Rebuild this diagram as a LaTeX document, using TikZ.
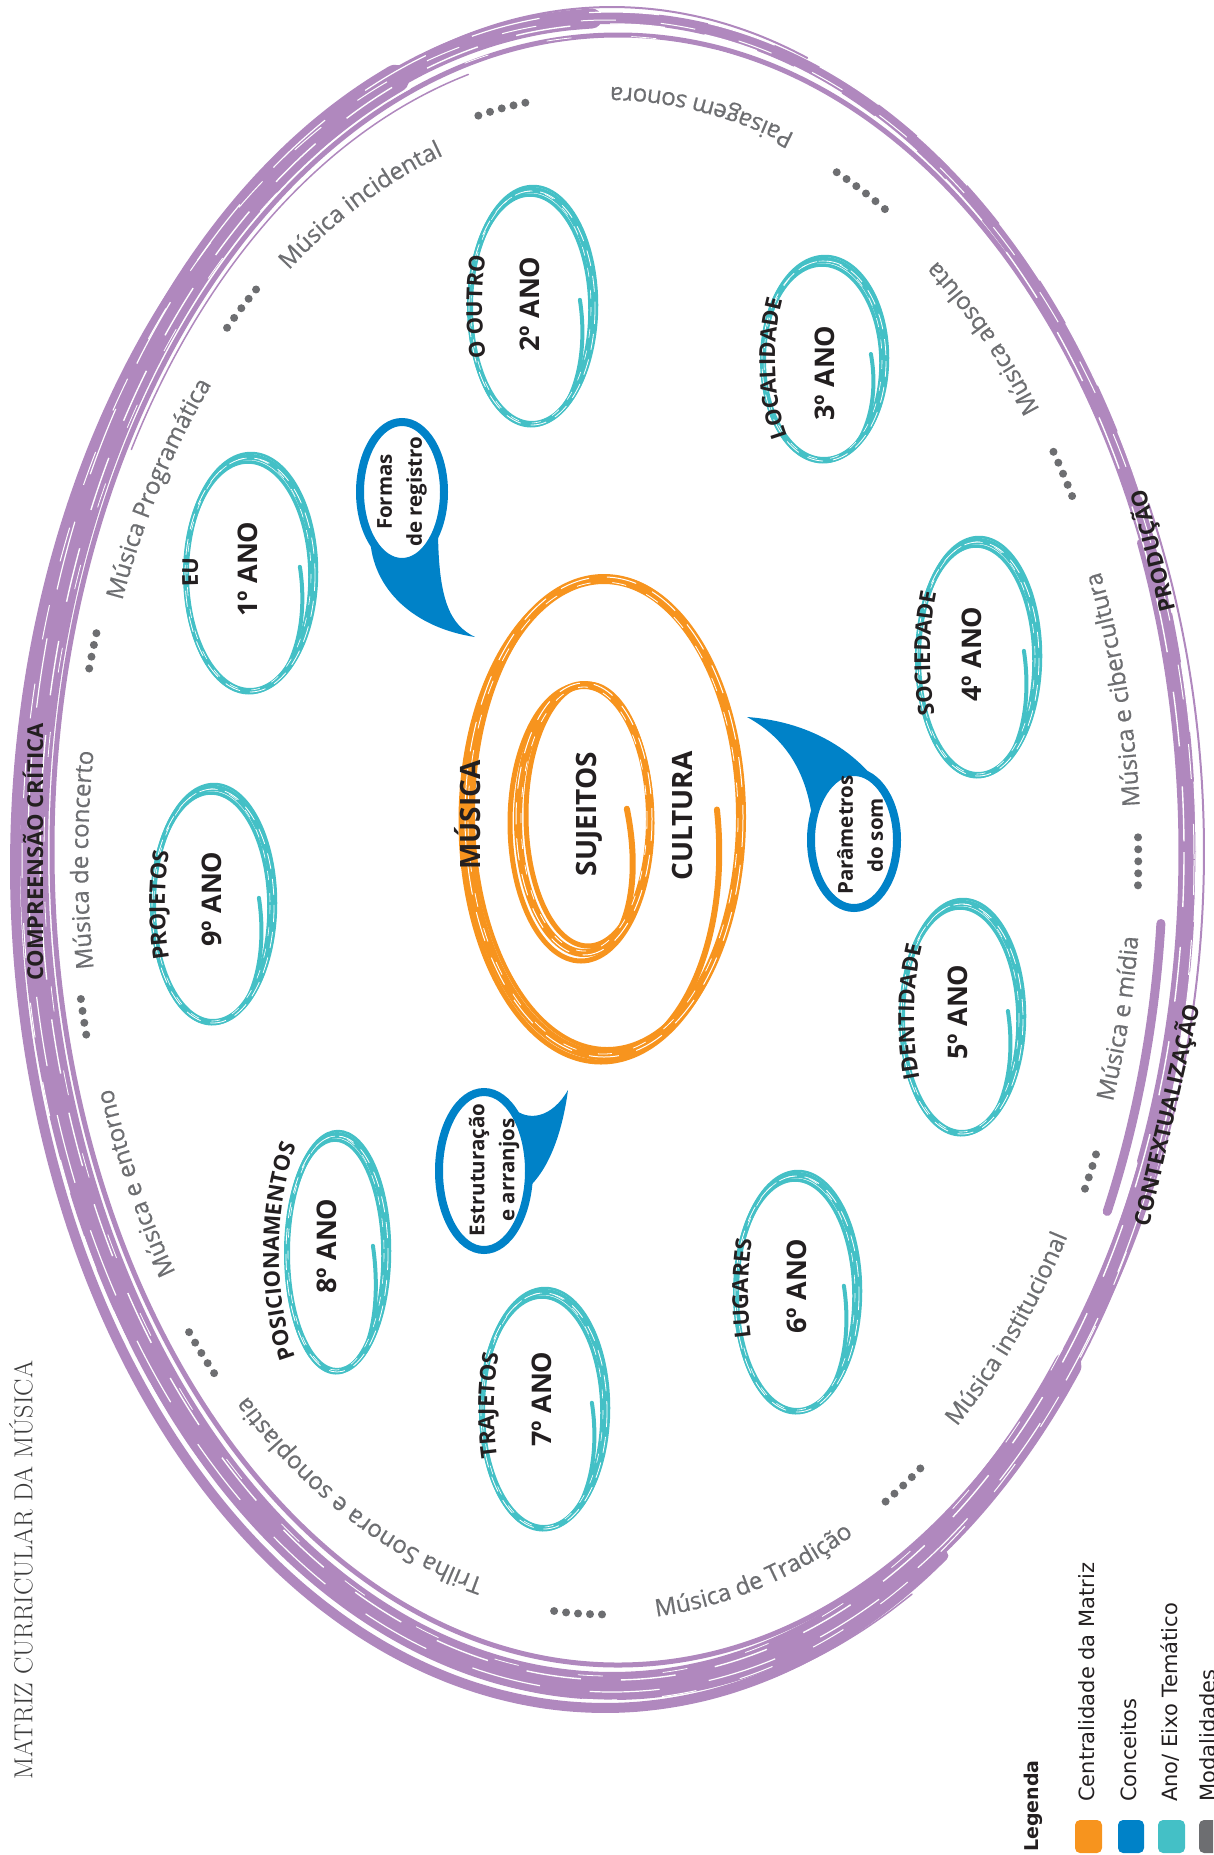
\documentclass[tikz,border=0pt]{standalone}
\usepackage{fontspec}
\newfontfamily\osans{Open Sans}
\newfontfamily\gsans{Open Sans}[FakeBold=0.6]
\newfontfamily\legfont{DejaVu Sans}
\usetikzlibrary{decorations.text}
\definecolor{mpurple}{RGB}{176,136,190}
\definecolor{mcyan}{RGB}{68,192,198}
\definecolor{morange}{RGB}{247,148,30}
\definecolor{mblue}{RGB}{0,130,200}
\definecolor{mgray}{RGB}{109,110,113}
\definecolor{mdark}{RGB}{35,31,32}
\definecolor{mtitle}{RGB}{60,60,60}

\newcommand\yoval[4]{%
  \draw[mcyan, line width=6] (#1,#2) ellipse[x radius=#3, y radius=#4];
  \draw[mcyan, line width=3.5] (#1-2,#2+3) ellipse[x radius=#3-2, y radius=#4-2];
  \draw[mcyan, line width=2.5] (#1+1,#2-2) ellipse[x radius=#3+2, y radius=#4+2];
  \draw[mcyan, line width=4, line cap=round] plot[domain=4:-60, samples=30, smooth] ({#1+(#3-14*(\x+60)/64)*cos(\x)},{#2-(#4-14*(\x+60)/64)*sin(\x)});
  \draw[mcyan, line width=5, line cap=round] plot[domain=190:300, samples=30, smooth] ({#1-1+(#3-1)*cos(\x)},{#2+2-(#4-1)*sin(\x)});
  \draw[white, line width=0.8, dash pattern=on 16pt off 10pt] (#1,#2+1) ellipse[x radius=#3+1, y radius=#4];
  \draw[white, line width=0.6, dash pattern=on 9pt off 13pt] (#1-1,#2) ellipse[x radius=#3-2, y radius=#4-1];
}
\newcommand\glab[5]{%
  \path[decorate, decoration={text along path, text align=center, text color=mgray,
    text={|\gsans\fontsize{24}{24}\selectfont|#5}}]
    plot[domain=#1:#2, samples=80] ({605+#3*cos(\x)},{860-#4*sin(\x)});}
\newcommand\tlab[7]{%
  \path[decorate, decoration={text along path, text align=center, text color=mdark,
    text={|\osans\bfseries\fontsize{22}{22}\selectfont|#7}}]
    plot[domain=#5:#6, samples=70] ({#1+#3*cos(\x)},{#2-#4*sin(\x)});}

\tikzset{
  yearlbl/.style={font=\osans\bfseries\fontsize{27}{27}\selectfont, text=mdark, rotate=90, inner sep=0},
  centerlbl/.style={font=\osans\bfseries\fontsize{28}{28}\selectfont, text=mdark, rotate=90, inner sep=0},
  bandlbl/.style={font=\osans\bfseries\fontsize{22}{22}\selectfont, text=mdark, inner sep=0},
  bubbletxt/.style={font=\osans\bfseries\fontsize{20.5}{30}\selectfont, text=mdark, rotate=90, align=center, inner sep=0},
  legtxt/.style={font=\legfont\fontsize{21}{21}\selectfont, text=mdark, rotate=90, anchor=west, inner sep=0},
  legbox/.style={rounded corners=5pt},
  brush/.style={line cap=round},
}

\begin{document}
\begin{tikzpicture}[x=1pt, y=-1pt]
\useasboundingbox (0,0) rectangle (1213,1855);
\clip (0,0) rectangle (1213,1855);

% ---------- purple outer band ----------
\begin{scope}[mpurple, brush]
\draw[line width=12] (612,852) ellipse[x radius=578, y radius=834];
\draw[line width=20] plot[domain=92:342, samples=100, smooth] ({612+578*cos(\x)},{852-834*sin(\x)});
\draw[line width=28] plot[domain=112:322, samples=100, smooth] ({612+578*cos(\x)},{852-834*sin(\x)});
\draw[line width=10] plot[domain=125:305, samples=80, smooth] ({605+590*cos(\x)},{866-842*sin(\x)});
\draw[line width=5] (618,850) ellipse[x radius=566, y radius=815];
\draw[line width=9] plot[domain=-26:-5, samples=30, smooth] ({612+551*cos(\x)},{852-820*sin(\x)});
\draw[line width=7] plot[domain=-22:22, samples=30, smooth] ({612+570*cos(\x)},{852-826*sin(\x)});
\draw[line width=2] plot[domain=70:135, samples=40, smooth] ({612+571*cos(\x)},{852-845*sin(\x)});
\draw[line width=2] plot[domain=-35:25, samples=40, smooth] ({612+592*cos(\x)},{852-824*sin(\x)});
\draw[line width=1.5] plot[domain=200:300, samples=40, smooth] ({612+600*cos(\x)},{858-850*sin(\x)});
\draw[line width=1.5] plot[domain=105:150, samples=40, smooth] ({612+555*cos(\x)},{852-805*sin(\x)});
\end{scope}
\draw[white, line width=1.4, dash pattern=on 55pt off 40pt] (612,852) ellipse[x radius=572, y radius=828];
\draw[white, line width=1, dash pattern=on 35pt off 45pt] (608,860) ellipse[x radius=586, y radius=840];
\draw[white, line width=0.8, dash pattern=on 25pt off 60pt] (610,856) ellipse[x radius=566, y radius=820];
\draw[white, line width=1.2, dash pattern=on 70pt off 50pt] (612,852) ellipse[x radius=584, y radius=840];

\node[bandlbl, rotate=90] (compr) at (33,852) {COMPREENSÃO CRÍTICA};
\node[bandlbl, rotate=104] (prod) at (1153,551) {PRODUÇÃO};
\node[bandlbl, rotate=77] (cont) at (1167,1115) {CONTEXTUALIZAÇÃO};

% ---------- grey modality labels ----------
\glab{135}{99}{522}{741}{Música incidental}
\glab{62}{98}{554}{773}{Paisagem sonora}
\glab{27}{63}{540}{759}{Música absoluta}
\glab{-4}{31}{536}{755}{Música e cibercultura}
\glab{-30}{5}{536}{755}{Música e mídia}
\glab{-58}{-22}{534}{753}{Música institucional}
\glab{-92}{-56}{541}{760}{Música de Tradição}
\glab{262}{222}{520}{739}{Trilha Sonora e sonoplastia}
\glab{224}{189}{518}{737}{Música e entorno}
\glab{197.5}{162.5}{517}{736}{Música de concerto}
\glab{167}{131}{516}{735}{Música Programática}

\foreach \ta/\nd/\kk in {101.0/5/1.025, 61.6/6/1.02, 30.8/5/1.01, -0.1/5/1.01, -24.4/4/1.01, -56.0/5/1.01, 267.1/5/1.01, 220.8/5/1.01, 192.0/4/1.01, 163.9/4/1.01, 133.0/5/1.01}{
  \pgfmathsetmacro\spd{veclen(5.33*sin(\ta),7.54*cos(\ta))*1.7453}
  \pgfmathsetmacro\dtt{12/\spd}
  \foreach \i in {1,...,\nd}{
    \pgfmathsetmacro\tb{\ta+(\i-(\nd+1)/2)*\dtt}
    \fill[mgray] ({605+528*\kk*cos(\tb)},{860-747*\kk*sin(\tb)}) circle[radius=4];
  }
}

% ---------- orange centre ----------
\begin{scope}[morange, brush]
\draw[line width=10] (604,817) ellipse[x radius=137, y radius=238];
\draw[line width=5] (601,821) ellipse[x radius=140, y radius=241];
\draw[line width=4] (607,813) ellipse[x radius=134, y radius=236];
\draw[line width=6] plot[domain=2:-70, samples=40, smooth] ({604+(137-24*(\x+70)/72)*cos(\x)},{817-(238-23*(\x+70)/72)*sin(\x)});
\draw[line width=8] (584,819) ellipse[x radius=66, y radius=134];
\draw[line width=5] (581,823) ellipse[x radius=71, y radius=138];
\draw[line width=5] (588,815) ellipse[x radius=62, y radius=131];
\draw[line width=6] plot[domain=5:-60, samples=30, smooth] ({584+(66-23*(\x+60)/65)*cos(\x)},{819-(134-16*(\x+60)/65)*sin(\x)});
\end{scope}
\draw[white, line width=1, dash pattern=on 30pt off 18pt] (604,817) ellipse[x radius=139, y radius=240];
\draw[white, line width=0.8, dash pattern=on 14pt off 22pt] (603,818) ellipse[x radius=135, y radius=236];
\draw[white, line width=1, dash pattern=on 22pt off 14pt] (584,819) ellipse[x radius=68, y radius=136];
\draw[white, line width=0.8, dash pattern=on 10pt off 16pt] (584,819) ellipse[x radius=63, y radius=132];

\node[centerlbl] (musica) at (468,815) {MÚSICA};
\node[centerlbl] (sujeitos) at (589,814) {SUJEITOS};
\node[centerlbl] (cultura) at (682,816) {CULTURA};

% ---------- cyan year ovals ----------
\yoval{250}{574}{64}{117}
\yoval{532}{307}{62}{117}
\yoval{824}{360}{61}{100}
\yoval{978}{658}{60}{117}
\yoval{962}{1018}{60}{115}
\yoval{797}{1293}{61}{118}
\yoval{544}{1410}{62}{118}
\yoval{337}{1253}{50}{118}
\yoval{213}{905}{60}{117}

\node[yearlbl] (y1) at (248,569) {1º ANO};
\node[yearlbl] (y2) at (530,304) {2º ANO};
\node[yearlbl] (y3) at (825,373) {3º ANO};
\node[yearlbl] (y4) at (972,654) {4º ANO};
\node[yearlbl] (y5) at (958,1012) {5º ANO};
\node[yearlbl] (y6) at (797,1286) {6º ANO};
\node[yearlbl] (y7) at (542,1399) {7º ANO};
\node[yearlbl] (y8) at (327,1246) {8º ANO};
\node[yearlbl] (y9) at (212,899) {9º ANO};

\tlab{250}{574}{52}{132}{233.7}{123.7}{EU}
\tlab{532}{307}{50}{132}{235}{125}{O OUTRO}
\tlab{824}{360}{49}{115}{241}{131}{LOCALIDADE}
\tlab{978}{658}{48}{132}{232}{122}{SOCIEDADE}
\tlab{962}{1018}{48}{130}{231}{121}{IDENTIDADE}
\tlab{797}{1293}{49}{133}{232}{122}{LUGARES}
\tlab{544}{1410}{50}{133}{232}{122}{TRAJETOS}
\tlab{337}{1253}{58}{150}{239}{119}{POSICIONAMENTOS}
\tlab{213}{905}{48}{132}{235}{125}{PROJETOS}

% ---------- blue speech bubbles ----------
\fill[mblue] (370,537) .. controls (372,590) and (415,628) .. (475,637) .. controls (450,625) and (438,600) .. (438,527) -- cycle;
\draw[mblue, line width=8, fill=white] (402,492) ellipse[x radius=42, y radius=70];
\node[bubbletxt] (b1) at (402,492) {Formas\\de registro};

\fill[mblue] (884,792) .. controls (860,755) and (815,722) .. (747,717) .. controls (780,735) and (805,765) .. (812,817) -- cycle;
\draw[mblue, line width=8, fill=white] (854,840) ellipse[x radius=43, y radius=68];
\node[bubbletxt] (b2) at (860,835) {Parâmetros\\do som};

\fill[mblue] (513,1108) .. controls (528,1122) and (552,1118) .. (568,1090) .. controls (562,1135) and (548,1170) .. (528,1188) -- cycle;
\draw[mblue, line width=8, fill=white] (484,1171) ellipse[x radius=45, y radius=79];
\node[bubbletxt] (b3) at (494,1170) {Estruturação\\e arranjos};

% ---------- title ----------
\node[rotate=90, font=\fontsize{26}{26}\selectfont, text=mtitle, inner sep=0] (title) at (21,1570) {MATRIZ CURRICULAR DA MÚSICA};

% ---------- legend ----------
\node[font=\legfont\bfseries\fontsize{19}{19}\selectfont, text=mdark, rotate=90, anchor=west, inner sep=0] (leg) at (1033,1852) {Legenda};
\fill[morange, legbox] (1075,1820) rectangle (1102,1853);
\fill[mblue, legbox] (1118,1820) rectangle (1144,1853);
\fill[mcyan, legbox] (1158,1820) rectangle (1185,1853);
\fill[mgray, legbox] (1199,1820) rectangle (1226,1853);
\node[legtxt] (l1) at (1087,1802) {Centralidade da Matriz};
\node[legtxt] (l2) at (1129,1802) {Conceitos};
\node[legtxt] (l3) at (1170,1802) {Ano/ Eixo Temático};
\node[legtxt] (l4) at (1208,1802) {Modalidades};
\end{tikzpicture}
\end{document}
